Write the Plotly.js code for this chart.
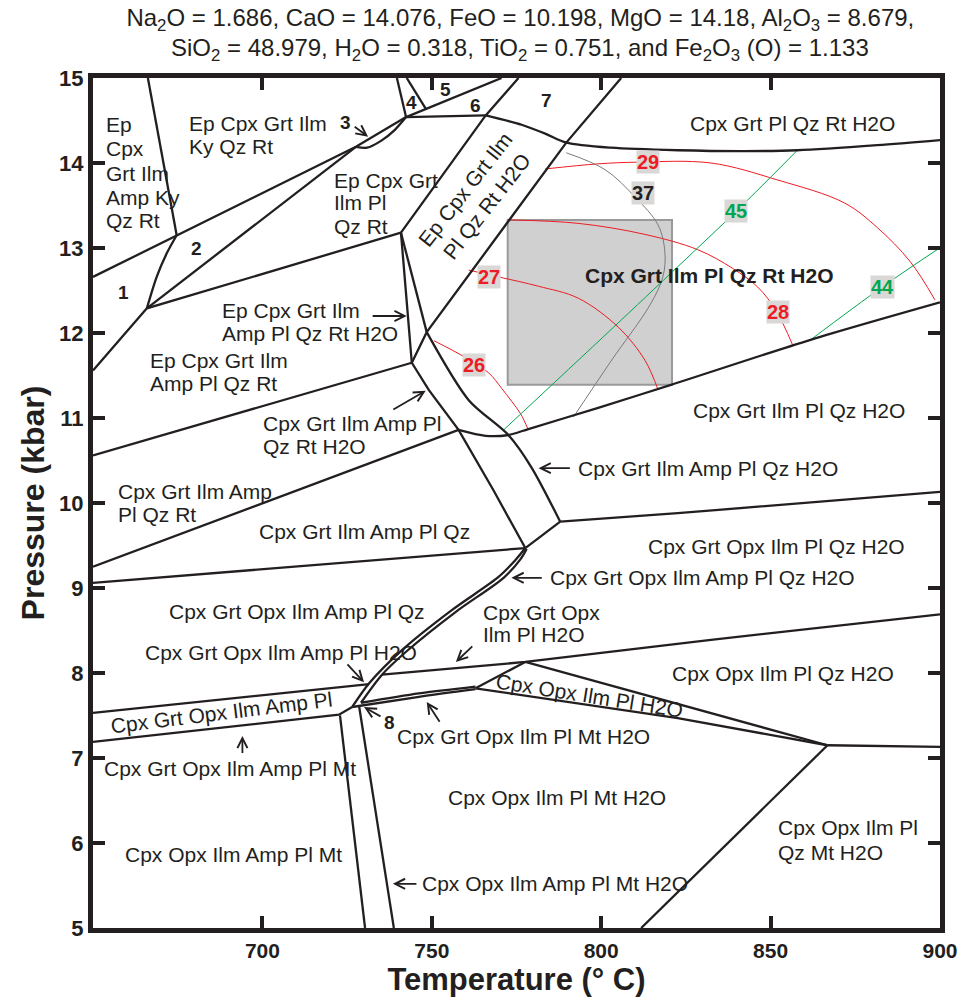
<!DOCTYPE html>
<html><head><meta charset="utf-8">
<script src="https://cdn.plot.ly/plotly-3.0.1.min.js"></script>
<style>html,body{margin:0;padding:0;background:#fff}#chart{width:960px;height:997px}</style>
</head><body><div id="chart"></div>
<script>
// ---------- phase-boundary data (T in °C, P in kbar) ----------
const b01T=[666.2,674.7], b01P=[15,13.15];
const b02T=[650,674.7,727.6,742.4], b02P=[12.66,13.15,14.19,14.54];
const b03T=[727.6,730.9,735.0,739.1,742.4], b03P=[14.19,14.18,14.26,14.39,14.54];
const b04T=[665.9,668.8,671.8,674.7], b04P=[12.29,12.66,12.94,13.15];
const b05T=[665.9,727.6], b05P=[12.29,14.19];
const b06T=[650,665.9,740.9], b06P=[11.56,12.29,13.18];
const b07T=[739.7,742.4], b07P=[15,14.54];
const b08T=[742.6,748.2], b08P=[15,14.64];
const b09T=[742.4,770.6], b09P=[14.54,15];
const b10T=[742.4,765.9], b10P=[14.54,14.56];
const b11T=[740.9,765.9,775.6], b11P=[13.18,14.56,15];
const b12T=[765.9,776.5,783.8,789.7,802.9,822.6,842.4,857.9,881.5,900], b12P=[14.56,14.45,14.34,14.24,14.18,14.15,14.14,14.15,14.21,14.27];
const b13T=[805.9,789.7,748.5,744.1], b13P=[15,14.24,12.01,11.65];
const b14T=[740.9,744.1], b14P=[13.18,11.65];
const b15T=[740.9,748.5], b15P=[13.18,12.01];
const b16T=[748.5,760.9,772.6,779.4,787.9], b16P=[12.01,11.21,10.80,10.42,9.78];
const b17T=[744.1,749.1,757.9,768.2,777.6], b17P=[11.65,11.33,10.86,10.15,9.47];
const b18T=[650,744.1], b18P=[10.56,11.65];
const b19T=[650,757.9], b19P=[9.25,10.86];
const b20T=[757.9,765.9,772.6,778.5,799.1,820.6,861.8,900], b20P=[10.86,10.79,10.80,10.87,11.12,11.39,11.92,12.36];
const b21T=[787.9,822.6,900], b21P=[9.78,9.88,10.13];
const b22T=[777.6,787.9], b22P=[9.47,9.78];
const b23T=[650,777.6], b23P=[9.06,9.47];
const b24T=[777.6,774.7,769.7,755.9,741.2,731.5,726.5], b24P=[9.47,9.33,9.13,8.74,8.27,7.88,7.60];
const b25T=[778.0,776.2,771.2,757.1,742.4,735.3,729.1], b25P=[9.46,9.34,9.12,8.72,8.25,7.98,7.65];
const b26T=[735.3,777.6,832.4,900], b26P=[7.98,8.13,8.39,8.69];
const b27T=[762.9,777.6], b27P=[7.82,8.13];
const b28T=[777.6,822.6,866.8], b28P=[8.13,7.64,7.15];
const b29T=[762.9,822.6,866.8], b29P=[7.82,7.47,7.15];
const b30T=[866.8,900], b30P=[7.15,7.13];
const b31T=[866.8,811.8], b31P=[7.15,5];
const b32T=[729.1,746.2,762.9], b32P=[7.65,7.76,7.84];
const b33T=[726.5,746.2,762.9], b33P=[7.60,7.72,7.81];
const b34T=[650,731.5], b34P=[7.53,7.87];
const b35T=[650,722.6,726.5], b35P=[7.19,7.51,7.60];
const b36T=[722.9,730.3], b36P=[7.50,5];
const b37T=[728.5,738.8], b37P=[7.62,5];

// ---------- isopleth data ----------
const iso26T=[750.6,760.0,766.8,770.6,773.5,776.2,778.5], iso26P=[11.91,11.71,11.53,11.35,11.20,11.05,10.86];
const iso27T=[760.9,769.7,781.5,793.2,805.0,812.9,816.8], iso27P=[12.74,12.66,12.55,12.41,12.07,11.68,11.33];
const iso28T=[772.9,793.2,812.9,828.5,838.8,846.2,851.5,856.5], iso28P=[13.33,13.29,13.16,12.98,12.76,12.54,12.27,11.86];
const iso29T=[783.5,799.1,810.9,832.4,852.1,871.8,881.5,891.2,898.5], iso29P=[13.93,13.99,14.01,14.0,13.8,13.53,13.24,12.84,12.39];
const iso37T=[789.7,801.2,810.0,816.8,818.8,818.2,814.4,802.9,791.8], iso37P=[14.12,13.92,13.60,13.27,12.95,12.66,12.33,11.67,11.01];
const iso45T=[857.9,840.3,822.6,802.9,771.2], iso45P=[14.15,13.45,12.78,12.04,10.86];
const iso44T=[899.5,882.9,861.8], iso44P=[12.99,12.54,11.92];

// gray box (estimated P-T window)
const boxT=[772.4,820.9], boxP=[11.39,13.33];

const INK='#231f20', RED='#ed1c24', GREEN='#00a651', GRAYL='#7a7a7a';
const FONT='Arial, "Liberation Sans", sans-serif';

const straight=[b01T,b02T,b05T,b06T,b07T,b08T,b09T,b10T,b11T,b13T,b14T,b15T,b17T,b18T,b19T,b21T,b22T,b23T,b26T,b27T,b28T,b29T,b30T,b31T,b34T,b35T,b36T,b37T];
const straightP=[b01P,b02P,b05P,b06P,b07P,b08P,b09P,b10P,b11P,b13P,b14P,b15P,b17P,b18P,b19P,b21P,b22P,b23P,b26P,b27P,b28P,b29P,b30P,b31P,b34P,b35P,b36P,b37P];
const curved=[b03T,b04T,b12T,b16T,b20T,b24T,b25T,b32T,b33T];
const curvedP=[b03P,b04P,b12P,b16P,b20P,b24P,b25P,b32P,b33P];

const traces=[];
function isoTrace(x,y,c,w){traces.push({x:x,y:y,mode:'lines',line:{color:c,width:w,shape:'spline',smoothing:1},hoverinfo:'skip',showlegend:false});}
isoTrace(iso26T,iso26P,RED,1);
isoTrace(iso27T,iso27P,RED,1);
isoTrace(iso28T,iso28P,RED,1);
isoTrace(iso29T,iso29P,RED,1);
isoTrace(iso37T,iso37P,GRAYL,1);
isoTrace(iso45T,iso45P,GREEN,1);
isoTrace(iso44T,iso44P,GREEN,1);
straight.forEach((t,i)=>traces.push({x:t,y:straightP[i],mode:'lines',line:{color:INK,width:2.3},hoverinfo:'skip',showlegend:false}));
curved.forEach((t,i)=>traces.push({x:t,y:curvedP[i],mode:'lines',line:{color:INK,width:2.3,shape:'spline',smoothing:0.8},hoverinfo:'skip',showlegend:false}));

// ---------- annotations ----------
const ann=[];
function L(text,x,y,o){o=o||{};ann.push(Object.assign({x:x,y:y,xref:'x',yref:'y',text:text,showarrow:false,xanchor:'left',yanchor:'middle',font:{family:FONT,size:21,color:INK}},o));}
function N(text,x,y){ann.push({x:x,y:y,xref:'x',yref:'y',text:'<b>'+text+'</b>',showarrow:false,xanchor:'center',yanchor:'middle',font:{family:FONT,size:19,color:INK}});}
function C(text,x,y,c){ann.push({x:x,y:y,xref:'x',yref:'y',text:'<b>'+text+'</b>',showarrow:false,xanchor:'center',yanchor:'middle',bgcolor:'#d9d8d6',borderpad:0,font:{family:FONT,size:20,color:c}});}
function A(tx,ty,hx,hy){ann.push({x:hx,y:hy,ax:tx,ay:ty,xref:'x',yref:'y',axref:'x',ayref:'y',text:'',showarrow:true,arrowhead:5,arrowsize:1.1,arrowwidth:1.8,arrowcolor:INK,standoff:0,startstandoff:0});}

L('Ep',653.2,14.45); L('Cpx',653.2,14.165); L('Grt Ilm',653.2,13.88); L('Amp Ky',653.2,13.60); L('Qz Rt',653.2,13.32);
L('Ep Cpx Grt Ilm',677.6,14.47); L('Ky Qz Rt',677.6,14.19);
L('Ep Cpx Grt',720.6,13.80); L('Ilm Pl',720.6,13.53); L('Qz Rt',720.6,13.25);
L('Ep Cpx Grt Ilm<br>Pl Qz Rt H2O',762.9,13.59,{xanchor:'center',textangle:-52});
L('Cpx Grt Pl Qz Rt H2O',825.6,14.47);
L('Ep Cpx Grt Ilm',687.4,12.27); L('Amp Pl Qz Rt H2O',687.4,11.99);
L('Ep Cpx Grt Ilm',666.2,11.68); L('Amp Pl Qz Rt',666.2,11.41);
L('Cpx Grt Ilm Amp Pl',699.7,10.93); L('Qz Rt H2O',699.7,10.66);
L('Cpx Grt Ilm Amp',656.8,10.13); L('Pl Qz Rt',656.8,9.86);
L('Cpx Grt Ilm Amp Pl Qz',698.5,9.66);
L('<b>Cpx Grt Ilm Pl Qz Rt H2O</b>',794.7,12.68);
L('Cpx Grt Ilm Pl Qz H2O',826.5,11.09);
L('Cpx Grt Ilm Amp Pl Qz H2O',792.6,10.41);
L('Cpx Grt Opx Ilm Pl Qz H2O',813.2,9.49);
L('Cpx Grt Opx Ilm Amp Pl Qz H2O',784.4,9.12);
L('Cpx Grt Opx Ilm Amp Pl Qz',671.8,8.72);
L('Cpx Grt Opx',764.4,8.71); L('Ilm Pl H2O',764.4,8.45);
L('Cpx Grt Opx Ilm Amp Pl H2O',664.7,8.24);
L('Cpx Opx Ilm Pl Qz H2O',820.3,7.99);
L('Cpx Opx Ilm Pl H2O',796.5,7.74,{xanchor:'center',textangle:9});
L('Cpx Grt Opx Ilm Amp Pl',687.9,7.54,{xanchor:'center',textangle:-7});
L('Cpx Grt Opx Ilm Pl Mt H2O',739.1,7.25);
L('Cpx Grt Opx Ilm Amp Pl Mt',652.6,6.88);
L('Cpx Opx Ilm Pl Mt H2O',754.1,6.54);
L('Cpx Opx Ilm Amp Pl Mt',658.8,5.86);
L('Cpx Opx Ilm Amp Pl Mt H2O',746.5,5.52);
L('Cpx Opx Ilm Pl',851.5,6.18); L('Qz Mt H2O',851.5,5.89);

N('1',659.1,12.48); N('2',680.6,13.0); N('3',724.4,14.48); N('4',744.1,14.71);
N('5',754.1,14.86); N('6',762.9,14.68); N('7',783.8,14.73); N('8',737.6,7.42);

C('29',813.8,14.01,RED); C('37',812.4,13.65,INK); C('45',839.7,13.44,GREEN);
C('27',766.8,12.66,RED); C('28',852.1,12.25,RED); C('44',882.9,12.54,GREEN); C('26',762.4,11.62,RED);

A(726.8,14.44,731.2,14.31);
A(732.1,12.20,742.6,12.20);
A(738.2,11.09,748.2,11.32);
A(791.2,10.41,781.5,10.41);
A(782.9,9.12,773.5,9.12);
A(762.4,8.33,757.1,8.13);
A(724.7,8.12,730.0,7.89);
A(735.3,7.48,730.0,7.60);
A(752.6,7.41,748.5,7.66);
A(694.1,7.04,694.1,7.26);
A(745.9,5.52,738.5,5.52);

// second title line
ann.push({xref:'paper',yref:'paper',x:0.504,y:1.034,xanchor:'center',yanchor:'middle',showarrow:false,
  text:'SiO<sub>2</sub> = 48.979, H<sub>2</sub>O = 0.318, TiO<sub>2</sub> = 0.751, and Fe<sub>2</sub>O<sub>3</sub> (O) = 1.133',
  font:{family:FONT,size:24,color:INK}});

const layout={
  width:960,height:997,
  margin:{l:93,r:20,t:78,b:69},
  paper_bgcolor:'#fff',plot_bgcolor:'#fff',
  font:{family:FONT,color:INK},
  title:{text:'Na<sub>2</sub>O = 1.686, CaO = 14.076, FeO = 10.198, MgO = 14.18, Al<sub>2</sub>O<sub>3</sub> = 8.679,',
    x:0.542,xanchor:'center',y:0.982,yanchor:'middle',yref:'container',font:{family:FONT,size:24,color:INK}},
  xaxis:{range:[650,900],tickvals:[700,750,800,850,900],ticks:'inside',ticklen:12,tickwidth:4,tickcolor:INK,
    showline:true,linewidth:5,linecolor:INK,mirror:'ticks',showgrid:false,zeroline:false,
    tickfont:{family:FONT,size:21,color:INK,weight:'bold'},
    title:{text:'Temperature (° C)',font:{family:FONT,size:31,color:INK,weight:'bold'},standoff:6}},
  yaxis:{range:[5,15],tickvals:[5,6,7,8,9,10,11,12,13,14,15],ticks:'inside',ticklen:12,tickwidth:4,tickcolor:INK,
    showline:true,linewidth:5,linecolor:INK,mirror:'ticks',showgrid:false,zeroline:false,
    tickfont:{family:FONT,size:22,color:INK,weight:'bold'},
    title:{text:'Pressure (kbar)',font:{family:FONT,size:32,color:INK,weight:'bold'},standoff:6}},
  shapes:[{type:'rect',xref:'x',yref:'y',x0:boxT[0],x1:boxT[1],y0:boxP[0],y1:boxP[1],fillcolor:'#d0d0d0',line:{color:'#9a9a9a',width:2},layer:'below'}],
  annotations:ann
};
Plotly.newPlot('chart',traces,layout,{displayModeBar:false,staticPlot:true});
</script></body></html>
